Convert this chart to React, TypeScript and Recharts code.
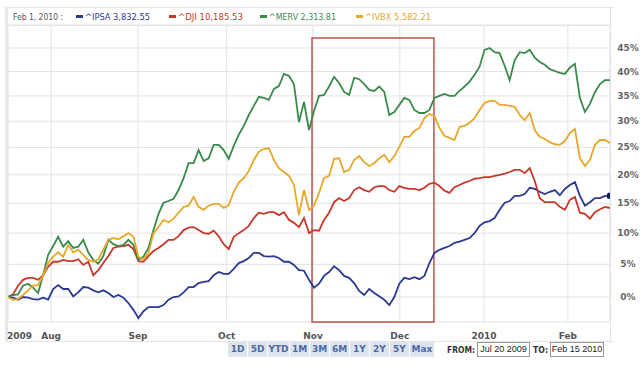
import React from "react";
import { LineChart, Line, XAxis, YAxis, CartesianGrid, ReferenceArea } from "recharts";

// Percent change from start (Jul 20 2009), sampled on a uniform session grid 0..120
const ipsa = [0,-0.1,-0.4,0,-0.1,-0.3,-0.4,-0.1,-0.4,1.2, 1.8,1.2,1.2,0.1,0.7,1.5,1.4,1.0,0.7,1.0, 0.6,0,0.3,-0.1,-0.9,-1.9,-3.1,-2.1,-1.5,-1.5, -1.5,-1.2,-0.4,0,0.1,0.7,1.5,1.5,2.1,2.3, 2.4,3.3,3.8,3.5,3.5,4.3,5.2,5.5,6.0,6.8, 6.8,6.3,6.2,6.3,6.0,5.4,5.4,4.9,4.1,4.0, 2.6,1.4,2.0,3.2,3.8,4.7,4.1,3.2,2.9,2.1, 0.9,0.3,1.2,0.6,0.1,-0.4,-1.2,0,2.0,2.9, 2.7,3.0,2.7,3.2,5.2,6.8,7.3,7.6,7.9,8.4, 8.6,8.9,9.2,10.0,11.2,11.8,12.0,12.5,13.9,15.1, 15.4,16.3,16.3,16.6,17.7,17.5,17.0,16.6,17.0,17.3, 16.4,17.5,18.2,18.7,16.3,14.6,15.2,15.9,15.9,16.3, 16.3];
const dji = [0,0.4,1.7,2.6,2.9,2.9,2.6,3.3,4.6,5.4, 5.4,5.7,5.5,5.5,5.8,4.9,5.4,3.3,4.1,5.2, 6.3,7.6,7.8,7.9,8.1,7.4,5.5,5.4,6.3,7.1, 7.6,8.2,8.9,8.9,9.5,10.5,10.9,11.0,10.5,10.0, 9.9,10.4,9.5,8.2,7.4,9.4,10.0,10.5,11.2,12.5, 13.4,13.2,13.5,13.5,13.0,13.5,12.2,11.7,11.0,12.5, 10.0,10.5,10.4,12.2,13.4,15.2,15.9,15.4,15.9,17.3, 17.8,17.3,17.0,17.8,18.0,18.0,17.3,17.0,18.0,17.7, 17.5,17.5,17.3,17.7,18.4,18.6,18.0,17.2,16.8,17.8, 18.2,18.6,18.9,19.3,19.4,19.6,19.6,19.8,20.0,20.2, 20.5,20.9,20.9,20.3,21.2,18.9,15.9,15.2,15.2,15.2, 14.4,13.9,15.6,16.1,13.4,13.2,12.4,13.5,14.0,14.4, 14.2];
const merv = [0,0.3,0.4,1.7,2.0,1.4,0.6,3.3,6.5,7.9, 9.4,7.8,8.7,7.6,7.8,8.9,6.9,5.7,5.1,6.3, 8.9,8.2,7.9,8.1,8.9,8.1,5.7,6.2,7.6,10.5, 13.2,15.1,15.4,15.8,17.3,19.4,22.1,22.1,24.5,22.5, 23.0,25.5,25.5,24.5,22.9,25.3,27.4,29.1,31.2,33.0, 34.8,34.6,34.2,36.4,37.0,39.5,39.1,37.4,29.8,33.8, 28.3,32.0,35.0,35.2,36.9,38.9,37.6,35.8,35.2,38.7, 38.4,37.4,36.2,36.0,36.9,35.8,31.2,31.8,33.2,34.6, 34.2,32.2,31.6,31.6,32.2,34.6,35.0,35.4,35.0,35.0, 36.0,36.9,37.9,39.3,41.0,44.6,45.0,44.1,43.9,41.2, 38.2,42.4,44.1,43.9,44.6,42.9,42.0,41.4,40.5,40.1, 39.7,39.5,40.8,41.6,34.6,31.8,33.4,35.8,37.4,38.2, 38.2];
const ivbx = [0,-0.4,-0.3,0.3,1.0,1.7,1.8,3.3,5.2,6.2, 6.9,6.2,8.1,6.9,7.3,6.5,5.7,5.4,5.8,7.3, 8.9,9.2,9.0,9.5,10.0,9.4,6.2,5.7,6.8,10.0, 11.0,12.2,11.8,12.4,13.4,14.4,14.6,16.1,14.4,13.9, 14.6,14.9,14.9,14.2,14.7,17.0,18.6,19.4,20.7,22.7, 24.2,24.7,24.9,22.7,21.2,20.5,19.8,18.2,13.0,17.3, 13.9,14.6,16.8,19.4,19.8,22.9,23.0,20.5,20.9,22.7, 23.4,22.3,21.6,22.1,23.0,23.6,22.3,23.4,25.1,27.0, 27.0,28.1,28.7,30.6,31.4,31.0,28.7,27.2,26.8,26.4, 28.9,29.1,29.7,30.6,32.2,33.6,34.0,34.0,33.2,33.2, 33.0,32.8,31.2,30.2,31.6,28.3,27.0,26.6,26.0,25.6, 25.5,26.2,27.7,28.5,23.0,21.6,22.7,25.5,26.4,26.4, 25.8];

const xTickPos = [0, 8.6, 25.9, 43.6, 60.8, 78.1, 94.9, 111.6];
const xTickLabels = ["2009", "Aug", "Sep", "Oct", "Nov", "Dec", "2010", "Feb"];
const yTickPct = [0, 5, 10, 15, 20, 25, 30, 35, 40, 45];
const yDomainPct = [-3.66, 50.06];
const highlightRange = [60.6, 84.9];
const highlightTopPct = 47.2;

const legendDate = "Feb 1, 2010 :";
const legendItems = [
  { name: "^IPSA", value: "3,832.55", color: "#2b3990" },
  { name: "^DJI", value: "10,185.53", color: "#c8382a" },
  { name: "^MERV", value: "2,313.81", color: "#3a8a4c" },
  { name: "^IVBX", value: "5,582.21", color: "#e8a72a" },
];
const rangeButtons = ["1D", "5D", "YTD", "1M", "3M", "6M", "1Y", "2Y", "5Y", "Max"];
const fromDate = "Jul 20 2009";
const toDate = "Feb 15 2010";

const data = ipsa.map((_, i) => ({
  i,
  ipsa: 100 + ipsa[i],
  dji: 100 + dji[i],
  merv: 100 + merv[i],
  ivbx: 100 + ivbx[i],
}));

const FONT = "Verdana, 'DejaVu Sans', sans-serif";

const XTick = (props: any) => {
  const { x, y, payload, index } = props;
  const label = xTickLabels[xTickPos.indexOf(payload.value)] ?? "";
  return (
    <text x={index === 0 ? x - 1 : x} y={y + 9} textAnchor={index === 0 ? "start" : "middle"}
      fontSize={9} fontWeight="bold" fill="#555" fontFamily={FONT}>{label}</text>
  );
};

const YTick = (props: any) => {
  const { y, payload } = props;
  return (
    <text x={628} y={y + 3} textAnchor="middle" fontSize={9} fontWeight="bold" fill="#666" fontFamily={FONT}>
      {`${Math.round(payload.value - 100)}%`}
    </text>
  );
};

const EndDot = (props: any) => {
  const { cx, cy, index } = props;
  if (index !== ipsa.length - 1) return <g key={`d${index}`} />;
  return <rect key={`d${index}`} x={cx - 3} y={cy - 3} width={6} height={6} rx={1.5} fill="#0f1a5c" />;
};

export default function App() {
  const legendWidths = [65, 65, 67, 66];
  const legendStarts = [76, 169, 260, 356];
  return (
    <div style={{ position: "absolute", left: 0, top: 0, width: 640, height: 365, background: "#fff", overflow: "hidden", fontFamily: FONT }}>
      {/* frame */}
      <div style={{ position: "absolute", left: 5, top: 7, width: 606, height: 333, border: "1px solid #e4e4e4", borderRight: "none", borderLeft: "3px solid #e8e8e8" }} />
      <div style={{ position: "absolute", left: 5, top: 25, width: 607, height: 1, background: "#e8e8e8" }} />
      <div style={{ position: "absolute", left: 610, top: 7, width: 1, height: 334, background: "#e4e4e4" }} />
      <LineChart width={640} height={365} data={data} margin={{ top: 25, right: 0, bottom: 0, left: 8 }} style={{ position: "absolute", left: 0, top: 0 }}>
        <CartesianGrid stroke="#e2e2e2" strokeWidth={1} />
        <XAxis dataKey="i" type="number" domain={[0, 120]} ticks={xTickPos} interval={0} height={43}
          axisLine={false} tickLine={false} tick={<XTick />} allowDataOverflow />
        <YAxis orientation="right" width={30} scale="log" domain={[100 + yDomainPct[0], 100 + yDomainPct[1]]}
          ticks={yTickPct.map((t) => 100 + t)} interval={0} axisLine={false} tickLine={false} tick={<YTick />} allowDataOverflow />
        <Line dataKey="ipsa" stroke={legendItems[0].color} strokeWidth={1.8} dot={<EndDot />} activeDot={false} isAnimationActive={false} />
        <Line dataKey="dji" stroke={legendItems[1].color} strokeWidth={1.8} dot={false} isAnimationActive={false} />
        <Line dataKey="merv" stroke={legendItems[2].color} strokeWidth={1.8} dot={false} isAnimationActive={false} />
        <Line dataKey="ivbx" stroke={legendItems[3].color} strokeWidth={1.8} dot={false} isAnimationActive={false} />
        <ReferenceArea x1={highlightRange[0]} x2={highlightRange[1]} y1={100 + yDomainPct[0]} y2={100 + highlightTopPct}
          fill="none" stroke="#c0504d" strokeWidth={1.5} ifOverflow="visible" />
      </LineChart>
      {/* legend */}
      <svg width={640} height={30} style={{ position: "absolute", left: 0, top: 0 }}>
        <text x={13} y={20} fontSize={9.5} fill="#555" fontFamily={FONT} textLength={50} lengthAdjust="spacingAndGlyphs">{legendDate}</text>
        {legendItems.map((it, k) => (
          <g key={it.name}>
            <rect x={legendStarts[k]} y={15} width={7} height={3} fill={it.color} />
            <text x={legendStarts[k] + 9} y={20} fontSize={9.5} fill={it.color} fontFamily={FONT}
              textLength={legendWidths[k]} lengthAdjust="spacingAndGlyphs">{`${it.name} ${it.value}`}</text>
          </g>
        ))}
      </svg>
      {/* range buttons */}
      <div style={{ position: "absolute", left: 228, top: 342, height: 15, display: "flex", gap: 1 }}>
        {rangeButtons.map((b) => (
          <div key={b} style={{ width: b === "Max" ? 24 : b === "YTD" ? 21 : 19, height: 15, background: "#dde4ee", color: "#4a6aa6",
            fontSize: 9, fontWeight: "bold", lineHeight: "15px", textAlign: "center" }}>{b}</div>
        ))}
      </div>
      <svg width={640} height={365} style={{ position: "absolute", left: 0, top: 0, pointerEvents: "none" }}>
        <text x={447} y={353} fontSize={9.5} fontWeight="bold" fill="#333" fontFamily={FONT} textLength={28} lengthAdjust="spacingAndGlyphs">FROM:</text>
        <text x={533} y={353} fontSize={9.5} fontWeight="bold" fill="#333" fontFamily={FONT} textLength={15} lengthAdjust="spacingAndGlyphs">TO:</text>
      </svg>
      <div style={{ position: "absolute", left: 477, top: 342, width: 51, height: 13, border: "1px solid #999", fontSize: 9, color: "#222",
        lineHeight: "13px", textAlign: "center", fontFamily: "'Liberation Sans', Arial, sans-serif" }}>{fromDate}</div>
      <div style={{ position: "absolute", left: 550, top: 342, width: 52, height: 13, border: "1px solid #999", fontSize: 9, color: "#222",
        lineHeight: "13px", textAlign: "center", fontFamily: "'Liberation Sans', Arial, sans-serif" }}>{toDate}</div>
    </div>
  );
}
